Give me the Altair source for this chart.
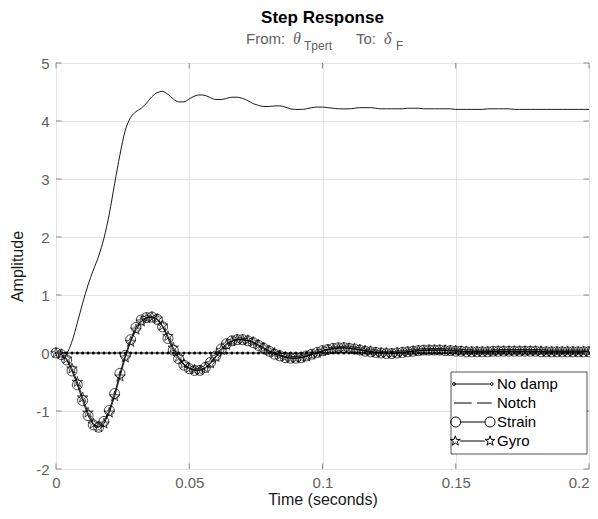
import math
import altair as alt
import pandas as pd

# ---------------- data ----------------
TIME = [
    0.000, 0.002, 0.004, 0.006, 0.008, 0.010, 0.012, 0.014, 0.016, 0.018,
    0.020, 0.022, 0.024, 0.026, 0.028, 0.030, 0.032, 0.034, 0.036, 0.038,
    0.040, 0.042, 0.044, 0.046, 0.048, 0.050, 0.052, 0.054, 0.056, 0.058,
    0.060, 0.062, 0.064, 0.066, 0.068, 0.070, 0.072, 0.074, 0.076, 0.078,
    0.080, 0.082, 0.084, 0.086, 0.088, 0.090, 0.092, 0.094, 0.096, 0.098,
    0.100, 0.102, 0.104, 0.106, 0.108, 0.110, 0.112, 0.114, 0.116, 0.118,
    0.120, 0.122, 0.124, 0.126, 0.128, 0.130, 0.132, 0.134, 0.136, 0.138,
    0.140, 0.142, 0.144, 0.146, 0.148, 0.150, 0.152, 0.154, 0.156, 0.158,
    0.160, 0.162, 0.164, 0.166, 0.168, 0.170, 0.172, 0.174, 0.176, 0.178,
    0.180, 0.182, 0.184, 0.186, 0.188, 0.190, 0.192, 0.194, 0.196, 0.198,
    0.200,
]

SERIES = ["No damp", "Notch", "Strain", "Gyro"]

NO_DAMP = [
    0, 0, 0, 0, 0, 0, 0, 0, 0, 0,
    0, 0, 0, 0, 0, 0, 0, 0, 0, 0,
    0, 0, 0, 0, 0, 0, 0, 0, 0, 0,
    0, 0, 0, 0, 0, 0, 0, 0, 0, 0,
    0, 0, 0, 0, 0, 0, 0, 0, 0, 0,
    0, 0, 0, 0, 0, 0, 0, 0, 0, 0,
    0, 0, 0, 0, 0, 0, 0, 0, 0, 0,
    0, 0, 0, 0, 0, 0, 0, 0, 0, 0,
    0, 0, 0, 0, 0, 0, 0, 0, 0, 0,
    0, 0, 0, 0, 0, 0, 0, 0, 0, 0,
    0,
]

NOTCH = [
    0.00, 0.00, 0.01, 0.20, 0.52, 0.86, 1.17, 1.43, 1.67, 1.98,
    2.40, 2.92, 3.42, 3.84, 4.06, 4.16, 4.22, 4.31, 4.42, 4.49,
    4.51, 4.46, 4.38, 4.33, 4.33, 4.38, 4.43, 4.45, 4.44, 4.40,
    4.37, 4.37, 4.39, 4.41, 4.41, 4.39, 4.35, 4.30, 4.27, 4.25,
    4.25, 4.26, 4.26, 4.24, 4.21, 4.20, 4.20, 4.21, 4.23, 4.24,
    4.24, 4.23, 4.22, 4.21, 4.21, 4.21, 4.22, 4.23, 4.23, 4.23,
    4.22, 4.21, 4.21, 4.21, 4.21, 4.21, 4.22, 4.22, 4.22, 4.21,
    4.21, 4.21, 4.21, 4.21, 4.21, 4.20, 4.20, 4.20, 4.20, 4.20,
    4.20, 4.21, 4.21, 4.21, 4.21, 4.21, 4.20, 4.20, 4.20, 4.20,
    4.20, 4.20, 4.20, 4.20, 4.20, 4.20, 4.20, 4.20, 4.20, 4.20,
    4.20,
]

STRAIN = [
    0.00, -0.03, -0.12, -0.31, -0.55, -0.82, -1.08, -1.24, -1.28, -1.18,
    -0.99, -0.70, -0.35, -0.04, 0.23, 0.44, 0.57, 0.61, 0.62, 0.58,
    0.45, 0.25, 0.05, -0.10, -0.21, -0.27, -0.30, -0.30, -0.25, -0.16,
    -0.05, 0.07, 0.16, 0.21, 0.23, 0.23, 0.21, 0.18, 0.13, 0.08,
    0.03, -0.02, -0.05, -0.08, -0.09, -0.09, -0.08, -0.05, -0.02, 0.01,
    0.04, 0.06, 0.08, 0.09, 0.09, 0.08, 0.07, 0.05, 0.03, 0.02,
    0.01, 0.00, -0.01, -0.01, 0.00, 0.01, 0.02, 0.03, 0.04, 0.05,
    0.05, 0.05, 0.05, 0.04, 0.04, 0.03, 0.03, 0.02, 0.02, 0.02,
    0.02, 0.02, 0.03, 0.03, 0.03, 0.03, 0.03, 0.03, 0.03, 0.03,
    0.03, 0.02, 0.02, 0.02, 0.02, 0.02, 0.02, 0.02, 0.02, 0.02,
    0.02,
]

GYRO = [
    0.00, -0.02, -0.10, -0.27, -0.50, -0.77, -1.03, -1.22, -1.28, -1.22,
    -1.03, -0.75, -0.41, -0.08, 0.19, 0.40, 0.54, 0.60, 0.62, 0.59,
    0.47, 0.29, 0.09, -0.07, -0.19, -0.26, -0.29, -0.30, -0.26, -0.18,
    -0.07, 0.05, 0.14, 0.20, 0.23, 0.23, 0.22, 0.19, 0.14, 0.09,
    0.04, 0.00, -0.04, -0.07, -0.09, -0.09, -0.08, -0.06, -0.03, 0.00,
    0.03, 0.06, 0.07, 0.08, 0.09, 0.08, 0.07, 0.06, 0.04, 0.03,
    0.01, 0.00, 0.00, -0.01, 0.00, 0.01, 0.02, 0.03, 0.04, 0.04,
    0.05, 0.05, 0.05, 0.05, 0.04, 0.04, 0.03, 0.03, 0.02, 0.02,
    0.02, 0.02, 0.02, 0.03, 0.03, 0.03, 0.03, 0.03, 0.03, 0.03,
    0.03, 0.03, 0.02, 0.02, 0.02, 0.02, 0.02, 0.02, 0.02, 0.02,
    0.02,
]

X_TICKS = [0, 0.05, 0.1, 0.15, 0.2]
Y_TICKS = [-2, -1, 0, 1, 2, 3, 4, 5]

TITLE = "Step Response"
X_TITLE = "Time (seconds)"
Y_TITLE = "Amplitude"

# ---------------- styling helpers (shapes only) ----------------
W, H = 533, 406
FRAME = "#8a8a8a"
GREY = "#5f5f5f"
FONT = "Liberation Sans"


def circ(cx, cy, r, n=18):
    pts = []
    for k in range(n):
        a = 2 * math.pi * k / n
        pts.append(f"{cx + r * math.cos(a):.3f},{cy + r * math.sin(a):.3f}")
    return "M" + "L".join(pts) + "Z"


def star(cx, cy, r):
    pts = []
    for k in range(10):
        a = math.radians(-90 + 36 * k)
        rr = r if k % 2 == 0 else r * 0.382
        pts.append(f"{cx + rr * math.cos(a):.3f},{cy + rr * math.sin(a):.3f}")
    return "M" + "L".join(pts) + "Z"


STAR = star(0, 0, 1)

# legend symbols (unit = 7 px with symbolSize 196)
LEG_PATHS = [
    "M-1.29,0L4.1,0" + circ(-1.29, 0, 0.2, 8) + circ(4.1, 0, 0.2, 8),
    "M-1.29,0L1.24,0M2.0,0L4.1,0",
    circ(-1.04, 0, 0.714) + "M-0.33,0L3.15,0" + circ(3.86, 0, 0.714),
    star(-1.1, 0, 0.75) + "M-0.4,0L3.1,0" + star(3.86, 0, 0.75),
]

rows = []
for name, vals in zip(SERIES, [NO_DAMP, NOTCH, STRAIN, GYRO]):
    for t, v in zip(TIME, vals):
        rows.append({"series": name, "t": t, "v": v})
df = pd.DataFrame(rows)

xt = pd.DataFrame({"t": X_TICKS})
yt = pd.DataFrame({"v": Y_TICKS})
one = pd.DataFrame({"k": [0]})

X = alt.X(
    "t:Q",
    scale=alt.Scale(domain=[0, 0.2], nice=False, zero=False),
    axis=alt.Axis(values=X_TICKS, title=X_TITLE, labelExpr="'' + datum.value",
                  ticks=False, domain=False, labelPadding=6, titlePadding=1,
                  labelFlush=False,
                  labelAlign={"condition": {"test": "datum.value >= 0.19", "value": "right"},
                              "value": "center"}),
)
Y = alt.Y(
    "v:Q",
    scale=alt.Scale(domain=[-2, 5], nice=False, zero=False),
    axis=alt.Axis(values=Y_TICKS, title=Y_TITLE, labelExpr="'' + datum.value",
                  ticks=False, domain=False, labelPadding=7, titlePadding=10,
                  labelFlush=False),
)


def series(name):
    return alt.Chart(df).transform_filter(alt.datum.series == name)


layers = []
# No damp
layers.append(series("No damp").mark_line(color="black", strokeWidth=0.9).encode(x=X, y=Y))
layers.append(series("No damp").mark_point(filled=True, color="black", size=9, opacity=1).encode(x=X, y=Y))
# Notch
layers.append(series("Notch").mark_line(color="black", strokeWidth=0.9, interpolate="monotone").encode(x=X, y=Y))
# Strain
layers.append(series("Strain").mark_line(color="black", strokeWidth=0.9).encode(x=X, y=Y))
layers.append(series("Strain").mark_point(shape="circle", filled=False, color="black",
                                          size=100, strokeWidth=0.7, opacity=1).encode(x=X, y=Y))
# Gyro
layers.append(series("Gyro").mark_line(color="black", strokeWidth=0.9).encode(x=X, y=Y))
layers.append(series("Gyro").mark_point(shape=STAR, filled=False, color="black",
                                        size=121, strokeWidth=0.7, opacity=1).encode(x=X, y=Y))

# inward ticks on all four sides
layers.append(alt.Chart(xt).mark_rule(color=FRAME, strokeWidth=1).encode(x=X, y=alt.value(H), y2=alt.value(H - 5.5)))
layers.append(alt.Chart(xt).mark_rule(color=FRAME, strokeWidth=1).encode(x=X, y=alt.value(0), y2=alt.value(5.5)))
layers.append(alt.Chart(yt).mark_rule(color=FRAME, strokeWidth=1).encode(y=Y, x=alt.value(0), x2=alt.value(5.5)))
layers.append(alt.Chart(yt).mark_rule(color=FRAME, strokeWidth=1).encode(y=Y, x=alt.value(W), x2=alt.value(W - 5.5)))

# legend box
layers.append(alt.Chart(one).mark_rect(fill="white", stroke="#262626", strokeWidth=0.8).encode(
    x=alt.value(395), x2=alt.value(531), y=alt.value(309), y2=alt.value(391)))

# legend carrier (invisible points)
layers.append(
    alt.Chart(df).mark_point(opacity=0, filled=False, color="black").encode(
        x=X, y=Y,
        shape=alt.Shape(
            "series:N",
            scale=alt.Scale(domain=SERIES, range=LEG_PATHS),
            legend=alt.Legend(
                title=None, orient="none", legendX=395, legendY=309, padding=4.5,
                symbolSize=196, symbolStrokeWidth=1, symbolStrokeColor="black",
                symbolFillColor="transparent", symbolOpacity=1,
                labelFont=FONT, labelFontSize=15, labelColor="black",
                labelOffset=26.5, rowPadding=3,
            ),
        ),
    )
)


def text(t, x, y, size, color, weight="normal", style="normal", font=FONT,
         align="left", baseline="alphabetic"):
    return alt.Chart(one).mark_text(
        text=t, font=font, fontSize=size, fontWeight=weight, fontStyle=style,
        color=color, align=align, baseline=baseline,
    ).encode(x=alt.value(x), y=alt.value(y))


layers.append(text(TITLE, W / 2, -45, 17, "black", weight="bold", align="center", baseline="middle"))
layers.append(text("From:", 190, -19, 15, GREY))
layers.append(text("θ", 237, -19, 16, GREY, style="italic", font="Liberation Serif"))
layers.append(text("Tpert", 248, -13, 12, GREY))
layers.append(text("To:", 300, -19, 15, GREY))
layers.append(text("δ", 328, -19, 16, GREY, style="italic", font="Liberation Serif"))
layers.append(text("F", 340, -13, 12, GREY))

chart = (
    alt.layer(*layers)
    .properties(width=W, height=H, autosize=alt.AutoSizeParams(type="none"),
                padding={"left": 48, "top": 55, "right": 1, "bottom": 42},
                background="white")
    .configure_view(stroke=FRAME, strokeWidth=1)
    .configure_axis(
        gridColor="#e4e4e4", gridWidth=1,
        labelFont=FONT, labelFontSize=15, labelColor=GREY,
        titleFont=FONT, titleFontSize=16, titleColor="#1a1a1a", titleFontWeight="normal",
    )
)

chart.save("out.html", embed_options={"renderer": "svg", "actions": False})
